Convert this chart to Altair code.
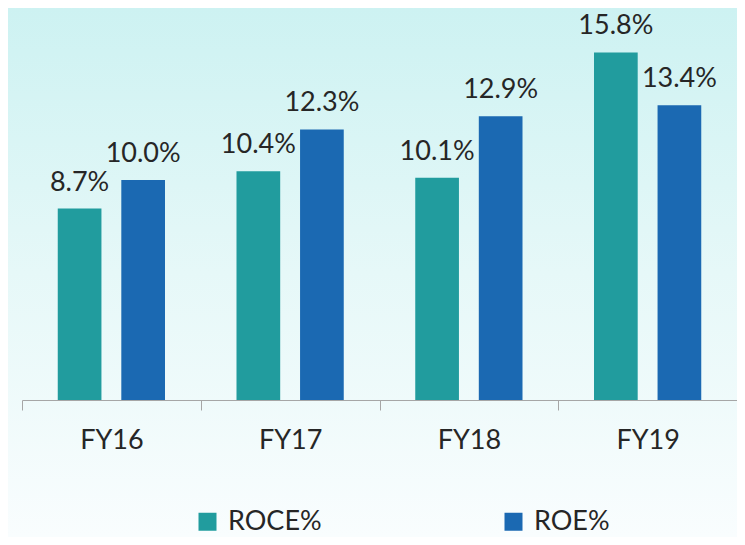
import altair as alt
import pandas as pd

years = ["FY16", "FY17", "FY18", "FY19"]
series_names = ["ROCE%", "ROE%"]
roce = [8.7, 10.4, 10.1, 15.8]
roe = [10.0, 12.3, 12.9, 13.4]
colors = ["#219C9E", "#1B69B2"]

rows = []
for i, y in enumerate(years):
    rows.append({"year": y, "series": series_names[0], "value": roce[i], "label": f"{roce[i]:.1f}%"})
    rows.append({"year": y, "series": series_names[1], "value": roe[i], "label": f"{roe[i]:.1f}%"})
df = pd.DataFrame(rows)

FONT = "Lato"
W, H = 715, 385
PAD = {"left": 14, "top": 7, "right": 0, "bottom": 137}

bg = alt.Chart(alt.Data(values=[{"a": 1}])).mark_rect(
    color=alt.Gradient(
        gradient="linear",
        stops=[alt.GradientStop(color="#cdf2f2", offset=0),
               alt.GradientStop(color="#e6f8f8", offset=0.5),
               alt.GradientStop(color="#f9fdfe", offset=1)],
        x1=0, x2=0, y1=0, y2=1),
).encode(
    x=alt.value(-PAD["left"]), x2=alt.value(W + PAD["right"]),
    y=alt.value(-PAD["top"]), y2=alt.value(H + PAD["bottom"]),
)

x_enc = alt.X("year:N", sort=years, title=None,
              scale=alt.Scale(paddingInner=0, paddingOuter=0),
              axis=alt.Axis(labelAngle=0, labelFont=FONT, labelFontSize=27,
                            labelColor="#262626", domainColor="#a6a6a6",
                            tickColor="#a6a6a6", tickSize=10, tickBand="extent",
                            labelPadding=30, labelBaseline="middle", grid=False,
                            zindex=2))
xo_enc = alt.XOffset("series:N", sort=series_names,
                     scale=alt.Scale(paddingInner=0.3125, paddingOuter=0.5625))
y_enc = alt.Y("value:Q", scale=alt.Scale(domain=[0, 17.5], nice=False), axis=None)

bars = alt.Chart(df).mark_bar().encode(
    x=x_enc, xOffset=xo_enc, y=y_enc,
    color=alt.Color("series:N", sort=series_names,
                    scale=alt.Scale(domain=series_names, range=colors),
                    legend=alt.Legend(title=None, orient="none", direction="horizontal",
                                      legendX=172, legendY=493,
                                      symbolType="square", symbolSize=324,
                                      symbolStrokeWidth=0, labelFont=FONT,
                                      labelFontSize=27, labelColor="#262626",
                                      labelOffset=7, columnPadding=178, zindex=2)),
)

texts = alt.Chart(df).mark_text(font=FONT, fontSize=27, color="#262626",
                                baseline="middle", dy=-26).encode(
    x=x_enc, xOffset=xo_enc, y=y_enc, text="label:N",
)

chart = alt.layer(bg, bars, texts).properties(
    width=W, height=H,
    autosize=alt.AutoSizeParams(type="none"),
    padding=PAD,
    background="#f9fdfe",
).configure_view(stroke=None)

chart.save("out.html", embed_options={"renderer": "svg", "actions": False})
